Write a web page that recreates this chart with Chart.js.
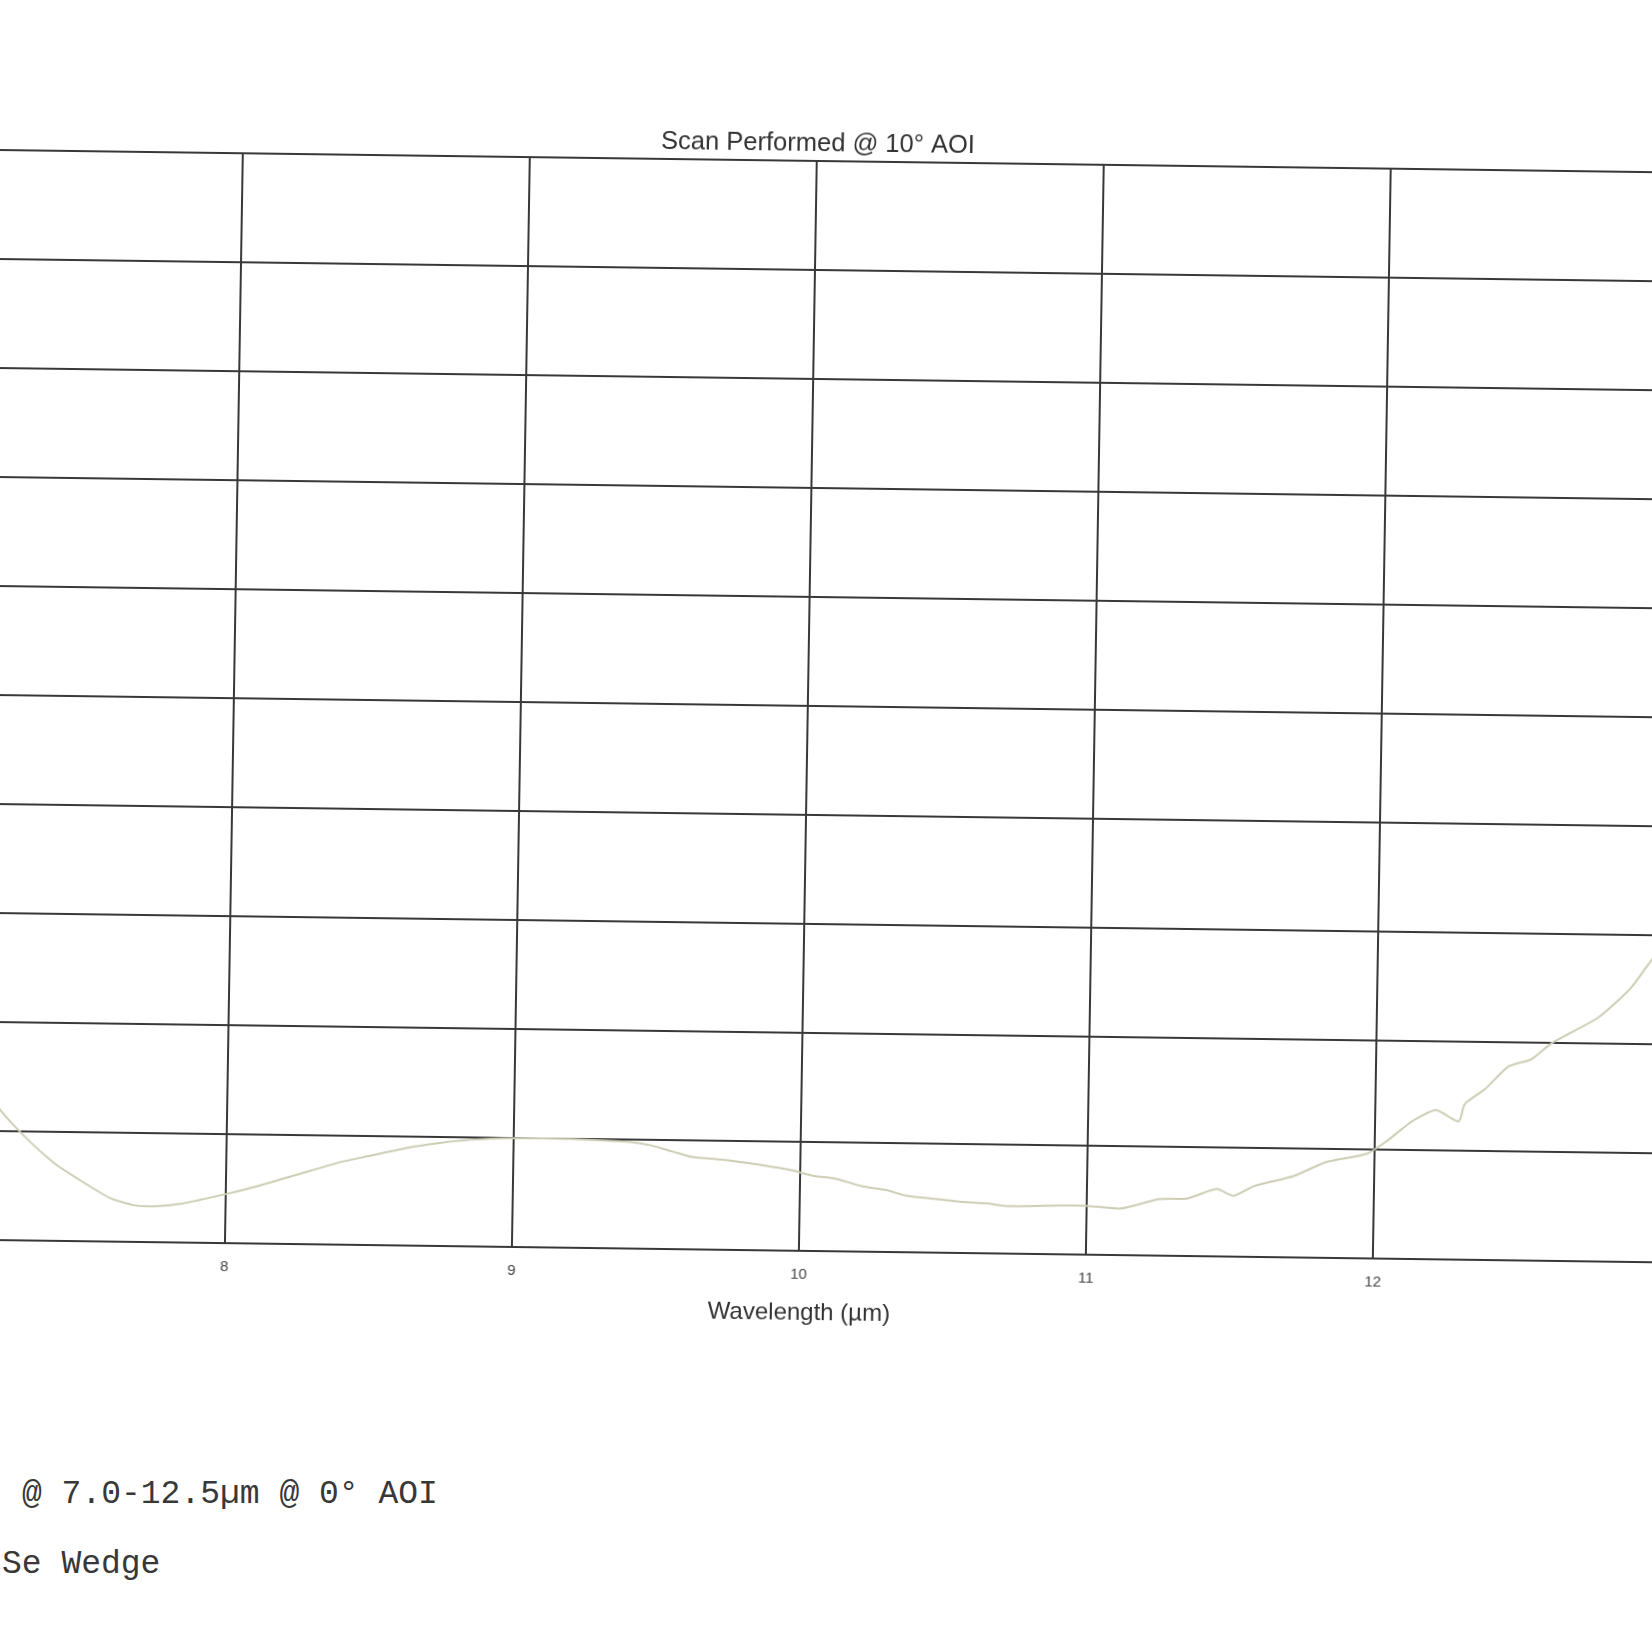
<!DOCTYPE html>
<html>
<head>
<meta charset="utf-8">
<script src="https://cdn.jsdelivr.net/npm/chart.js@4.4.1/dist/chart.umd.min.js"></script>
<style>
  html, body { margin: 0; padding: 0; background: #fff; width: 1652px; height: 1652px; overflow: hidden; }
  #wrap { position: absolute; left: -80px; top: 0; width: 1778px; height: 1332px; transform: matrix(1, 0.0134, -0.0164, 1, 0, 0); transform-origin: 889px 700px; }
  .note { position: absolute; font-family: "Liberation Mono", "DejaVu Sans Mono", monospace; font-size: 33px; color: #383838; white-space: nowrap; }
</style>
</head>
<body>
<div id="wrap"><canvas id="c"></canvas></div>
<div class="note" style="left:22px; top:1476px;">@ 7.0-12.5µm @ 0° AOI</div>
<div class="note" style="left:2px; top:1546px;">Se Wedge</div>
<script>
// Wavelength (µm) and curve values (in grid divisions, 0–10)
const wavelengths = [7.15, 7.21, 7.3, 7.4, 7.5, 7.6, 7.68, 7.75, 7.85, 8.0, 8.1, 8.2, 8.3, 8.4, 8.5, 8.6, 8.7, 8.85, 9.0, 9.2, 9.4, 9.48, 9.55, 9.62, 9.72, 9.82, 9.9, 9.97, 10.05, 10.12, 10.22, 10.3, 10.37, 10.45, 10.57, 10.65, 10.71, 10.79, 10.9, 11.0, 11.12, 11.25, 11.35, 11.45, 11.51, 11.58, 11.72, 11.83, 11.97, 12.04, 12.13, 12.21, 12.29, 12.31, 12.38, 12.46, 12.54, 12.61, 12.77, 12.88, 12.94, 13.0, 13.1];
const values      = [1.45, 1.2, 0.95, 0.72, 0.55, 0.4, 0.34, 0.33, 0.36, 0.45, 0.52, 0.6, 0.68, 0.76, 0.82, 0.88, 0.93, 0.98, 1.0, 1.0, 0.98, 0.95, 0.9, 0.85, 0.83, 0.8, 0.77, 0.74, 0.69, 0.67, 0.6, 0.57, 0.52, 0.5, 0.47, 0.46, 0.44, 0.44, 0.45, 0.45, 0.43, 0.52, 0.53, 0.62, 0.56, 0.65, 0.75, 0.88, 0.96, 1.08, 1.27, 1.37, 1.27, 1.43, 1.57, 1.78, 1.85, 2.0, 2.24, 2.51, 2.73, 2.95, 3.3];
const xTicks = [8, 9, 10, 11, 12];
const yTicks = [0, 1, 2, 3, 4, 5, 6, 7, 8, 9, 10];
const chartTitle = "Scan Performed @ 10° AOI";
const xTitle = "Wavelength (µm)";

const points = wavelengths.map((w, i) => ({ x: w, y: values[i] }));
const sans = 'Liberation Sans, Arial, sans-serif';

new Chart(document.getElementById('c'), {
  type: 'line',
  data: { datasets: [{ data: points, borderColor: '#cdcdb4', borderWidth: 2, pointRadius: 0, tension: 0.2, fill: false }] },
  options: {
    responsive: true, maintainAspectRatio: false, animation: false,
    layout: { padding: 0 },
    plugins: {
      legend: { display: false },
      tooltip: { enabled: false },
      title: { display: true, text: chartTitle, color: '#333', font: { family: sans, size: 25.5, weight: 'normal' }, padding: { top: 129, bottom: 1.5 } }
    },
    scales: {
      x: {
        type: 'linear', min: 6.9113, max: 13.0956,
        afterBuildTicks: s => { s.ticks = xTicks.map(v => ({ value: v })); },
        grid: { color: '#383838', lineWidth: 2, drawTicks: false },
        border: { display: false },
        ticks: { color: '#444', font: { family: sans, size: 15 }, padding: 15, maxRotation: 0 },
        title: { display: true, text: xTitle, color: '#333', font: { family: sans, size: 24 }, padding: { top: 0, bottom: 4 } }
      },
      y: {
        type: 'linear', min: 0, max: 10, position: 'right',
        afterBuildTicks: s => { s.ticks = yTicks.map(v => ({ value: v })); },
        afterFit: s => { s.width = 0; },
        grid: { color: '#383838', lineWidth: 2, drawTicks: false },
        border: { display: false },
        ticks: { display: false }
      }
    }
  }
});
</script>
</body>
</html>
